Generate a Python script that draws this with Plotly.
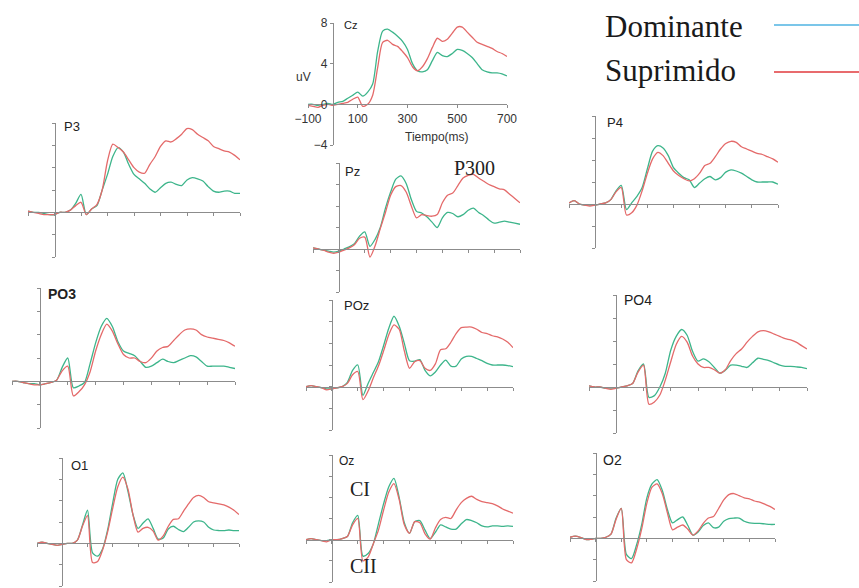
import plotly.graph_objects as go

# ---------------- data (µV, sampled every 20 ms) ----------------
time_ms = list(range(-100, 701, 20))

cz_dominante = [0.0,0.0,-0.1,0.0,0.1,0.0,0.2,0.3,0.6,0.9, 1.2,0.8,1.2,2.0,5.2,7.2,7.4,7.1,6.7,6.2, 5.4,4.0,3.3,3.2,3.4,4.3,5.1,4.8,4.7,5.0, 5.4,5.3,5.0,4.6,4.0,3.4,3.2,3.1,3.1,3.0, 2.8]
cz_suprimido = [-0.1,-0.2,-0.3,-0.1,0.0,-0.1,0.0,0.1,0.2,0.5, 0.7,-0.2,0.0,0.9,3.6,6.1,6.3,5.9,5.7,5.2, 4.6,3.7,3.3,3.7,4.5,5.6,6.5,6.2,6.4,7.0, 7.6,7.6,7.1,6.6,6.1,5.9,5.7,5.5,5.2,5.0, 4.7]

p3_dominante = [0.1,0.0,0.0,-0.1,-0.2,-0.2,0.0,0.0,0.2,0.8, 1.6,-0.2,0.3,0.6,2.0,3.4,5.0,5.8,5.4,4.3, 3.4,3.0,2.6,2.1,1.8,2.2,2.6,2.7,2.5,2.4, 2.9,3.1,3.0,2.8,2.3,1.9,1.8,1.9,1.9,1.7, 1.7]
p3_suprimido = [0.1,0.0,-0.1,-0.2,-0.2,-0.2,0.0,0.0,0.2,0.6, 0.9,-0.2,0.3,0.7,2.0,4.6,6.1,5.8,5.4,4.7, 4.0,3.6,3.5,4.3,5.0,5.9,6.4,6.3,6.6,7.0, 7.5,7.4,7.0,6.7,6.4,5.9,5.7,5.5,5.4,5.1, 4.7]

pz_dominante = [0.1,0.0,-0.1,-0.2,-0.3,-0.2,0.0,0.2,0.5,1.2, 1.6,0.25,0.9,2.0,3.8,5.3,6.5,6.8,6.1,4.6, 3.5,3.35,3.0,2.5,2.0,2.9,3.4,3.3,3.0,3.2, 3.6,3.8,3.4,3.1,2.7,2.4,2.5,2.6,2.5,2.4, 2.3]
pz_suprimido = [0.1,0.0,-0.1,-0.3,-0.4,-0.3,-0.1,0.1,0.4,1.0, 1.1,-0.75,0.3,1.9,3.4,5.0,5.8,5.9,5.3,4.0, 2.9,3.2,3.1,3.05,3.2,4.3,5.0,5.2,5.9,6.6, 6.85,6.95,6.6,6.3,6.0,5.8,5.6,5.5,5.1,4.7, 4.3]

p4_dominante = [0.1,0.3,0.0,-0.1,-0.1,-0.1,0.0,0.1,0.4,1.2, 1.7,-0.5,0.1,0.7,1.5,3.2,4.8,5.3,5.1,4.4, 3.3,2.8,2.4,2.2,1.5,1.9,2.3,2.5,2.2,2.4, 2.9,3.1,3.0,2.8,2.5,2.2,2.0,2.0,2.0,2.0, 1.8]
p4_suprimido = [0.1,0.3,0.0,-0.1,-0.2,-0.1,0.0,0.1,0.4,1.1, 1.5,-1.0,-0.8,-0.1,1.2,2.8,4.1,4.7,4.4,3.7, 3.0,2.6,2.3,2.1,2.3,2.8,3.5,3.7,4.3,5.0, 5.5,5.7,5.6,5.2,5.0,4.8,4.6,4.5,4.3,4.1, 3.8]

po3_dominante = [0.0,0.0,-0.1,-0.2,-0.2,-0.3,-0.2,-0.1,0.1,1.2, 2.0,-0.55,-0.4,-0.1,1.5,3.3,4.7,5.4,4.7,3.4, 2.6,2.4,2.2,1.7,1.2,1.3,1.6,1.9,1.7,1.6, 1.8,2.0,2.2,2.1,1.7,1.3,1.3,1.3,1.3,1.2, 1.1]
po3_suprimido = [0.0,0.0,-0.1,-0.2,-0.3,-0.3,-0.2,-0.1,0.1,0.9, 1.3,-1.25,-0.9,-0.3,0.8,2.6,4.0,4.9,4.3,3.2, 2.3,2.0,2.0,1.7,1.6,2.0,2.6,2.9,3.0,3.5, 4.0,4.4,4.5,4.4,4.0,3.8,3.7,3.6,3.5,3.3, 3.0]

poz_dominante = [0.0,0.1,0.0,-0.1,-0.2,-0.2,-0.1,0.0,0.4,1.5, 2.0,-0.8,0.3,1.3,2.3,3.8,5.4,6.5,5.6,4.0, 2.4,2.35,2.5,1.5,1.0,1.35,2.0,2.45,1.9,1.9, 2.55,2.8,2.8,2.6,2.4,2.15,2.0,2.0,2.0,1.95, 1.85]
poz_suprimido = [0.0,0.1,0.0,-0.1,-0.3,-0.2,-0.1,0.0,0.3,1.1, 1.4,-1.2,-0.4,0.8,1.9,3.3,4.8,5.7,5.3,3.3, 1.7,2.3,2.4,1.7,1.5,2.1,3.4,3.5,4.1,4.9, 5.45,5.5,5.5,5.3,5.0,4.9,4.7,4.6,4.4,4.1, 3.6]

po4_dominante = [0.1,0.0,0.0,-0.1,-0.1,-0.1,0.0,0.1,0.3,1.4, 2.0,-0.9,-0.75,0.0,1.2,3.2,4.4,5.0,4.5,3.1, 2.25,2.45,2.2,1.7,1.2,1.45,1.9,1.9,1.8,1.7, 2.1,2.5,2.4,2.3,2.1,1.9,1.8,1.8,1.75,1.7, 1.6]
po4_suprimido = [0.1,0.0,0.0,-0.1,-0.2,-0.1,0.0,0.1,0.3,1.3, 1.9,-1.5,-1.3,-0.7,0.6,2.2,3.7,4.4,3.9,2.7, 2.0,1.7,1.7,1.5,1.2,1.5,2.3,2.9,3.3,3.9, 4.4,4.8,4.9,4.8,4.6,4.4,4.2,4.1,3.9,3.6, 3.3]

o1_dominante = [0.0,0.1,0.0,-0.1,-0.2,-0.1,0.0,0.0,0.3,1.7, 3.1,-0.9,-1.2,-0.5,1.3,3.8,6.0,6.6,4.9,2.7, 1.4,1.9,2.3,1.4,0.4,0.5,1.35,1.6,1.3,1.1, 1.5,2.0,2.1,2.0,1.5,1.25,1.2,1.2,1.25,1.2, 1.2]
o1_suprimido = [0.0,0.1,0.0,-0.1,-0.2,-0.1,0.0,0.0,0.3,1.6, 2.6,-1.8,-1.7,-0.6,1.1,3.3,5.3,6.2,5.1,2.7, 1.05,1.4,1.5,1.15,0.3,0.7,1.6,2.25,2.3,3.0, 3.7,4.3,4.5,4.3,3.9,3.8,3.7,3.6,3.4,3.1, 2.7]

oz_dominante = [0.0,0.1,0.0,-0.1,-0.1,0.0,0.0,0.1,0.3,1.6, 2.3,-1.55,-1.3,-0.4,1.5,3.4,5.0,5.8,4.0,1.6, 0.6,1.7,1.8,0.9,0.1,0.7,1.4,1.2,1.0,1.0, 1.5,1.9,1.8,1.6,1.3,1.2,1.3,1.3,1.25,1.3, 1.25]
oz_suprimido = [0.0,0.1,0.0,-0.1,-0.2,0.0,0.0,0.1,0.3,1.4, 2.0,-2.0,-1.65,-0.4,0.9,2.8,4.5,5.3,3.8,1.4, 0.6,1.7,1.6,0.55,0.05,1.1,1.9,2.1,2.0,2.8, 3.5,3.9,4.1,3.8,3.6,3.5,3.4,3.2,2.9,2.7, 2.5]

o2_dominante = [0.1,0.2,0.1,-0.1,-0.1,0.0,0.0,0.1,0.4,1.9, 2.8,-1.5,-1.9,-0.6,1.3,3.8,5.1,5.5,4.5,2.7, 1.45,1.75,2.0,1.2,0.3,0.6,1.2,1.45,1.0,1.05, 1.6,1.85,1.9,1.9,1.6,1.45,1.4,1.4,1.35,1.3, 1.3]
o2_suprimido = [0.1,0.2,0.1,-0.1,-0.1,0.0,0.0,0.1,0.4,1.8, 2.8,-2.0,-2.3,-1.0,0.9,3.3,4.8,5.1,4.2,2.4, 0.8,1.05,1.25,0.85,0.3,0.7,1.4,1.9,2.05,2.8, 3.6,4.1,4.2,4.0,3.8,3.7,3.5,3.4,3.2,3.0, 2.7]

series_names = ["Dominante", "Suprimido"]
cz_x_ticks = [-100, 100, 300, 500, 700]
cz_y_ticks = [-4, 0, 4, 8]

# ---------------- layout / styling ----------------
W, H = 859, 588
XMIN, XMAX = -100, 700
YMIN, YMAX = -4, 8
GREEN = "#3db58b"
RED = "#e46a6a"
AXC = "#8c8c8c"
SANS = "Liberation Sans, Arial, sans-serif"
SERIF = "Liberation Serif, Times New Roman, serif"

# panel: name, dominante, suprimido, (px left(-100), px right(700), px top(8), px bottom(-4)),
#        label (left px, center y px), label font
panels = [
    ("Cz", cz_dominante, cz_suprimido, (308, 507, 23, 145), (342, 25), dict(size=11)),
    ("P3", p3_dominante, p3_suprimido, (28, 240, 123, 257), (62, 127), dict(size=13)),
    ("Pz", pz_dominante, pz_suprimido, (313, 520, 163, 292), (343, 171), dict(size=13)),
    ("P4", p4_dominante, p4_suprimido, (569, 778, 116, 248), (605, 123), dict(size=13)),
    ("<b>PO3</b>", po3_dominante, po3_suprimido, (12, 235, 288, 428), (46, 294), dict(size=14)),
    ("POz", poz_dominante, poz_suprimido, (306, 513, 300, 430), (342, 305), dict(size=13)),
    ("PO4", po4_dominante, po4_suprimido, (589, 807, 295, 433), (622, 300), dict(size=14)),
    ("O1", o1_dominante, o1_suprimido, (37, 239, 458, 586), (69, 465), dict(size=13)),
    ("Oz", oz_dominante, oz_suprimido, (306, 513, 455, 582), (337, 461), dict(size=12)),
    ("O2", o2_dominante, o2_suprimido, (570, 775, 453, 581), (601, 460), dict(size=14)),
]

fig = go.Figure()
layout = dict(
    width=W, height=H, margin=dict(l=0, r=0, t=0, b=0, pad=0), autosize=False,
    paper_bgcolor="white", plot_bgcolor="white", showlegend=False,
)
annotations = []

for i, (name, dom, sup, box, lab, lfont) in enumerate(panels, start=1):
    xa = "x" if i == 1 else f"x{i}"
    ya = "y" if i == 1 else f"y{i}"
    for vals, col, nm in ((dom, GREEN, series_names[0]), (sup, RED, series_names[1])):
        fig.add_trace(go.Scatter(
            x=time_ms, y=vals, xaxis=xa, yaxis=ya, mode="lines", name=nm,
            line=dict(color=col, width=1.3, shape="spline", smoothing=0.7),
            hoverinfo="skip"))
    x0, x1, yt, yb = box
    xzero = x0 + (x1 - x0) * (0 - XMIN) / (XMAX - XMIN)
    yzero = yb - (yb - yt) * (0 - YMIN) / (YMAX - YMIN)
    is_cz = (name == "Cz")
    xax = dict(
        domain=[x0 / W, x1 / W], range=[XMIN, XMAX], anchor="free", automargin=False,
        position=1 - yzero / H, showline=True, linecolor=AXC, linewidth=1,
        ticks="outside", ticklen=3, tickcolor=AXC, tickwidth=1,
        showgrid=False, zeroline=False, fixedrange=True,
    )
    yax = dict(
        domain=[1 - yb / H, 1 - yt / H], range=[YMIN, YMAX], anchor="free", automargin=False,
        position=xzero / W, showline=True, linecolor=AXC, linewidth=1,
        ticks="outside", ticklen=3, tickcolor=AXC, tickwidth=1,
        showgrid=False, zeroline=False, fixedrange=True,
    )
    if is_cz:
        xax.update(tickmode="array", tickvals=cz_x_ticks, showticklabels=True,
                   tickfont=dict(family=SANS, size=12, color="#333"))
        yax.update(tickmode="array", tickvals=cz_y_ticks, showticklabels=True,
                   tickfont=dict(family=SANS, size=12, color="#333"))
    else:
        xax.update(dtick=100, tick0=0, showticklabels=False)
        yax.update(dtick=2, tick0=0, showticklabels=False)
    layout["xaxis" if i == 1 else f"xaxis{i}"] = xax
    layout["yaxis" if i == 1 else f"yaxis{i}"] = yax

    annotations.append(dict(
        text=name, x=lab[0] / W, y=1 - lab[1] / H, xref="paper", yref="paper",
        xanchor="left", yanchor="middle", showarrow=False,
        font=dict(family=SANS, color="#222", **lfont)))

# Cz axis titles
annotations.append(dict(text="uV", x=303 / W, y=1 - 68 / H, xref="paper", yref="paper",
                        showarrow=False, font=dict(family=SANS, size=12, color="#333")))
annotations.append(dict(text="Tiempo(ms)", x=437 / W, y=1 - 128 / H, xref="paper", yref="paper",
                        showarrow=False, font=dict(family=SANS, size=12, color="#333")))
# other labels
annotations.append(dict(text="P300", x=475 / W, y=1 - 155 / H, xref="paper", yref="paper",
                        showarrow=False, font=dict(family=SERIF, size=20, color="#222")))
annotations.append(dict(text="CI", x=360 / W, y=1 - 502 / H, xref="paper", yref="paper",
                        showarrow=False, font=dict(family=SERIF, size=20, color="#222")))
annotations.append(dict(text="CII", x=363 / W, y=1 - 579 / H, xref="paper", yref="paper",
                        showarrow=False, font=dict(family=SERIF, size=20, color="#222")))
# legend (text left, line right)
legend_colors = ["#4fb3e2", "#e03a3c"]
legend_y = [26, 70]
line_y = [25, 72]
shapes = []
for nm, col, ty, ly in zip(series_names, legend_colors, legend_y, line_y):
    annotations.append(dict(text=nm, x=603 / W, y=1 - ty / H, xref="paper", yref="paper",
                            xanchor="left", yanchor="middle", showarrow=False,
                            font=dict(family=SERIF, size=31, color="#1a1a1a")))
    shapes.append(dict(type="line", xref="paper", yref="paper",
                       x0=774 / W, x1=1.0, y0=1 - ly / H, y1=1 - ly / H,
                       line=dict(color=col, width=1.5)))

layout["annotations"] = annotations
layout["shapes"] = shapes
fig.update_layout(**layout)
fig.write_html("out.html")
